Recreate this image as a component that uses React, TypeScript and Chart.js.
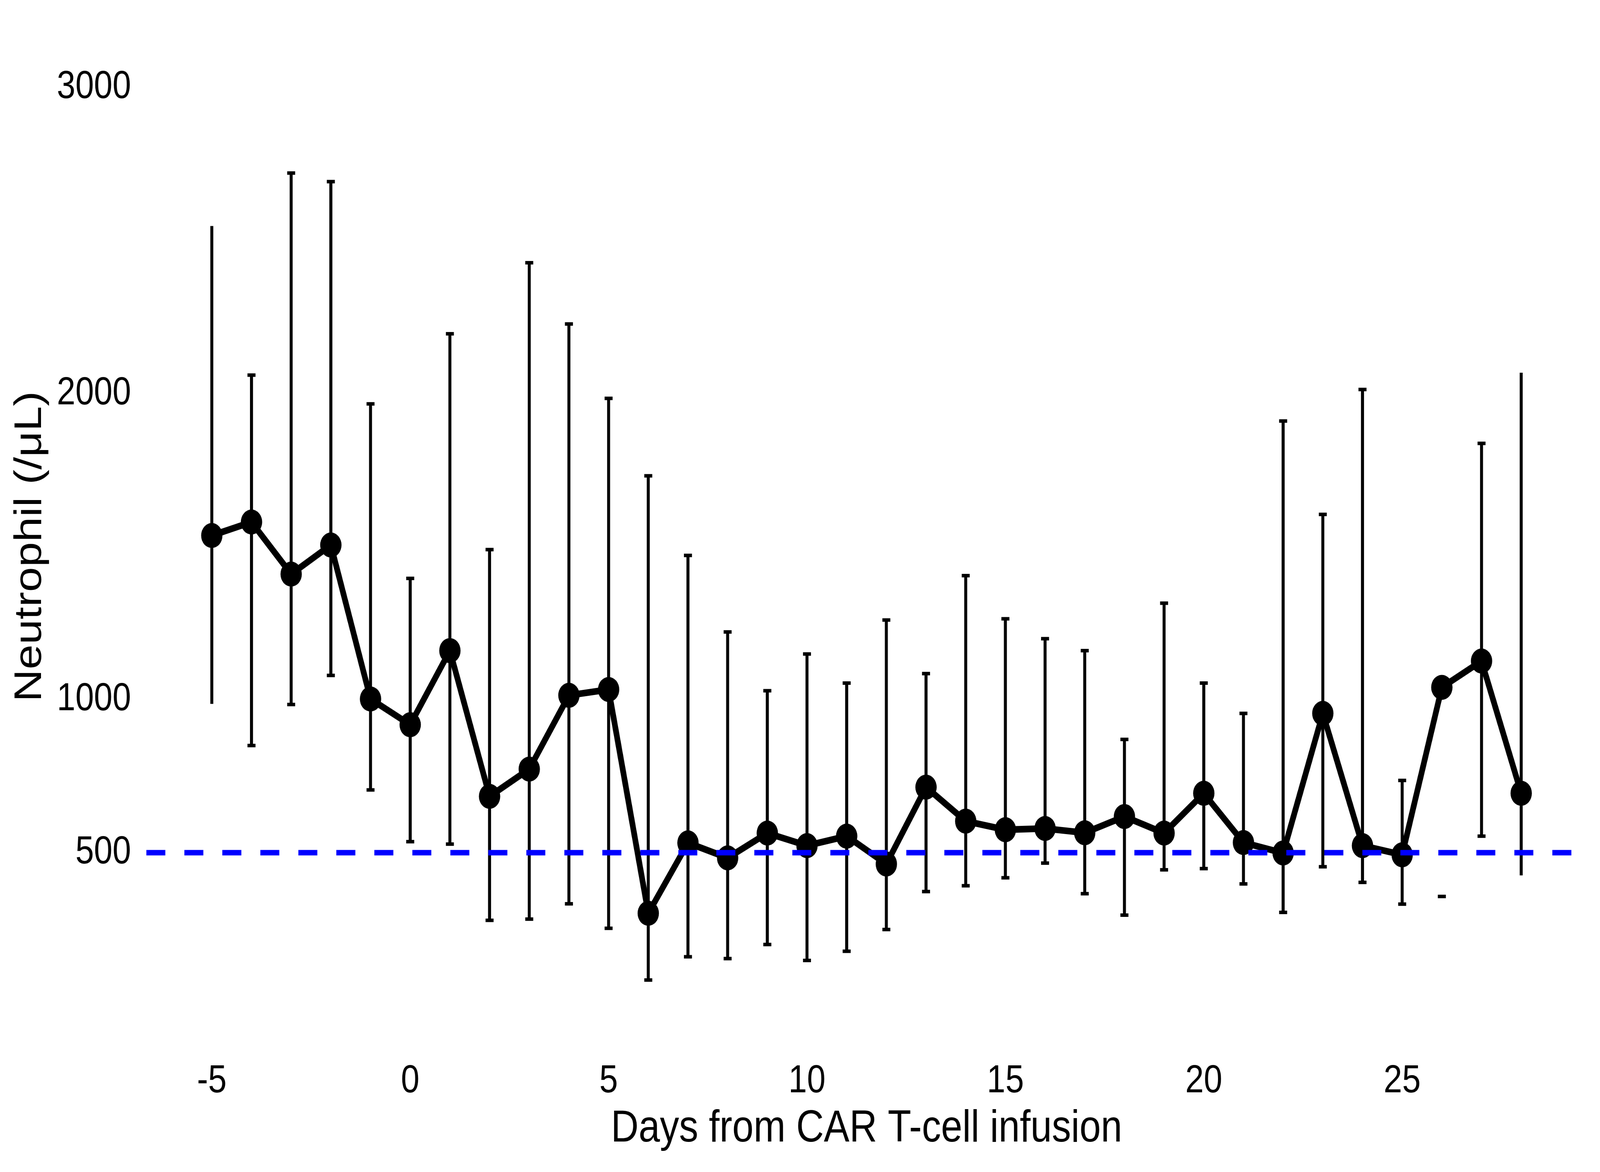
import { useEffect, useRef } from 'react';
import { Chart, registerables } from 'chart.js';

Chart.register(...registerables);

const days = [-5, -4, -3, -2, -1, 0, 1, 2, 3, 4, 5, 6, 7, 8, 9, 10, 11, 12, 13, 14, 15, 16, 17, 18, 19, 20, 21, 22, 23, 24, 25, 26, 27, 28];
const means = [1536, 1580, 1410, 1505, 1002, 918, 1160, 684, 773, 1014, 1033, 302, 532, 483, 564, 523, 554, 463, 714, 603, 575, 579, 565, 618, 564, 694, 533, 499, 955, 523, 493, 1040, 1126, 694];
const upper = [2547, 2060, 2720, 2692, 1966, 1396, 2195, 1490, 2427, 2227, 1984, 1731, 1471, 1221, 1029, 1149, 1054, 1260, 1085, 1405, 1264, 1199, 1160, 870, 1315, 1054, 955, 1910, 1605, 2013, 736, null, 1837, 2068];
const lower = [986, 850, 984, 1079, 705, 536, 528, 279, 283, 333, 253, 84, 160, 154, 200, 148, 178, 249, 373, 392, 418, 466, 366, 296, 444, 448, 398, 305, 454, 403, 332, 357, 554, 426];

// ends drawn without a cap, and days whose bar has no stem
const noUpperCap = [-5, 28];
const noLowerCap = [-5, 28];
const noStem = [26];

const threshold = 500;
const xTicks = [-5, 0, 5, 10, 15, 20, 25];
const yTicks = [500, 1000, 2000, 3000];
const xMin = -6.65;
const xMax = 29.65;
const yMin = -150;
const yMax = 3150;

const FONT = '"Liberation Sans", Arial, Helvetica, sans-serif';

const errorBars = {
  id: 'errorBars',
  beforeDatasetsDraw(chart: any) {
    const { ctx, scales } = chart;
    const x = scales.x;
    const y = scales.y;
    const cap = 12;
    ctx.save();
    ctx.strokeStyle = '#000';
    ctx.lineWidth = 9;
    ctx.lineCap = 'butt';
    const hbar = (px: number, v: number) => {
      const py = y.getPixelForValue(v);
      ctx.beginPath();
      ctx.moveTo(px - cap, py);
      ctx.lineTo(px + cap, py);
      ctx.stroke();
    };
    days.forEach((d, i) => {
      const px = x.getPixelForValue(d);
      const lo = lower[i];
      const hi = upper[i];
      if (lo != null && hi != null && !noStem.includes(d)) {
        ctx.beginPath();
        ctx.moveTo(px, y.getPixelForValue(lo));
        ctx.lineTo(px, y.getPixelForValue(hi));
        ctx.stroke();
      }
      if (hi != null && !noUpperCap.includes(d)) hbar(px, hi);
      if (lo != null && !noLowerCap.includes(d)) hbar(px, lo);
    });
    ctx.restore();
  },
};

const App = () => {
  const canvasRef = useRef<HTMLCanvasElement>(null);

  useEffect(() => {
    if (!canvasRef.current) return;
    const chart = new Chart(canvasRef.current, {
      type: 'line',
      data: {
        datasets: [
          {
            label: 'threshold',
            data: [
              { x: xMin, y: threshold },
              { x: xMax, y: threshold },
            ],
            borderColor: '#0000FF',
            borderWidth: 14,
            borderDash: [57, 57],
            pointRadius: 0,
          },
          {
            label: 'Neutrophil',
            data: days.map((d, i) => ({ x: d, y: means[i] })),
            borderColor: '#000',
            borderWidth: 17,
            tension: 0,
            pointRadius: 32,
            pointHoverRadius: 32,
            pointBackgroundColor: '#000',
            pointBorderWidth: 0,
          },
        ],
      },
      options: {
        animation: false,
        responsive: false,
        devicePixelRatio: 1,
        events: [],
        layout: { padding: { top: 52, right: 40, left: 0, bottom: 0 } },
        plugins: {
          legend: { display: false },
          tooltip: { enabled: false },
        },
        scales: {
          x: {
            type: 'linear',
            min: xMin,
            max: xMax,
            grid: { display: false, drawTicks: false },
            border: { display: false },
            afterBuildTicks: (s: any) => {
              s.ticks = xTicks.map((v) => ({ value: v }));
            },
            afterFit: (s: any) => {
              s.height = 308;
            },
            ticks: {
              color: '#000',
              padding: 16,
              maxRotation: 0,
              autoSkip: false,
              callback: (v: any) => String(v),
              font: { family: FONT, size: 100 },
            },
            title: {
              display: true,
              text: 'Days from CAR T-cell infusion',
              color: '#000',
              font: { family: FONT, size: 115 },
              padding: { top: 0, bottom: 41 },
            },
          },
          y: {
            type: 'linear',
            min: yMin,
            max: yMax,
            grid: { display: false, drawTicks: false },
            border: { display: false },
            afterBuildTicks: (s: any) => {
              s.ticks = yTicks.map((v) => ({ value: v }));
            },
            afterFit: (s: any) => {
              s.width = 439;
            },
            ticks: {
              color: '#000',
              padding: 46,
              autoSkip: false,
              callback: (v: any) => String(v),
              font: { family: FONT, size: 100 },
            },
            title: {
              display: true,
              text: 'Neutrophil (/μL)',
              color: '#000',
              font: { family: FONT, size: 115 },
              padding: { top: 22, bottom: 0 },
            },
          },
        },
      },
      plugins: [errorBars],
    });
    return () => chart.destroy();
  }, []);

  // the chart is drawn on a 4800 x 3000 bitmap and fitted to whatever viewport we get
  return (
    <div style={{ position: 'fixed', left: 0, top: 0, width: '100vw', height: '100vh', background: '#fff' }}>
      <canvas ref={canvasRef} width={4800} height={3000} style={{ display: 'block', width: '100vw', height: '100vh' }} />
    </div>
  );
};

export default App;
